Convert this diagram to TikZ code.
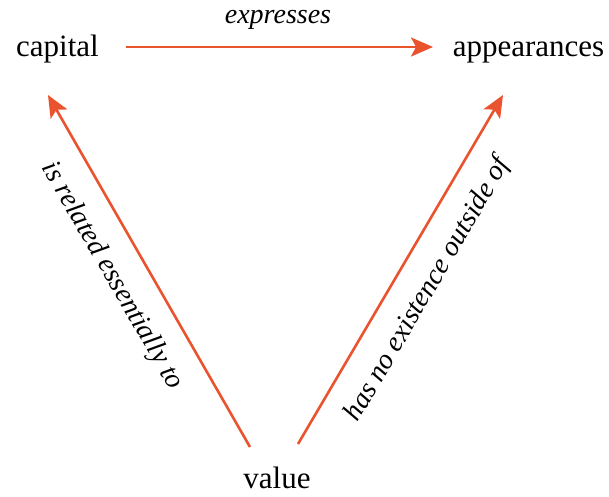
\documentclass[tikz,border=0pt]{standalone}
\usepackage{fontspec}
\setmainfont{Liberation Serif}[UprightFont=*, ItalicFont=* Italic, BoldFont=* Bold]
\usetikzlibrary{arrows.meta}
\definecolor{arrowred}{HTML}{E9532E}
\begin{document}
\begin{tikzpicture}[x=1pt,y=1pt,
  term/.style={font=\rmfamily\fontsize{31}{36}\selectfont, inner sep=0pt, anchor=base},
  rel/.style={font=\rmfamily\itshape\fontsize{28}{32}\selectfont, inner sep=0pt},
  link/.style={draw=arrowred, line width=2.6pt, -{Stealth[length=22pt,width=19pt,inset=5pt]}}]
\useasboundingbox (0,0) rectangle (609,496);
% terms
\node[term] (capital) at (57.5,439) {capital};
\node[term] (appearances) at (528.5,439) {appearances};
\node[term] (value) at (277,8) {value};
% connector ends
\coordinate (topS) at (126,449);
\coordinate (topE) at (433,449);
\coordinate (leftS) at (250,49);
\coordinate (leftE) at (48,401);
\coordinate (rightS) at (298,52);
\coordinate (rightE) at (503,401);
% arrows
\draw[link] (topS) -- (topE);
\draw[link] (leftS) -- (leftE);
\draw[link] (rightS) -- (rightE);
% labels
\node[rel] (lexp) at (278,476) {expresses};
\node[rel, rotate=-60] (lrel) at (112,220) {is related essentially to};
\node[rel, rotate=59.6] (lhas) at (428,206) {has no existence outside of};
\end{tikzpicture}
\end{document}
